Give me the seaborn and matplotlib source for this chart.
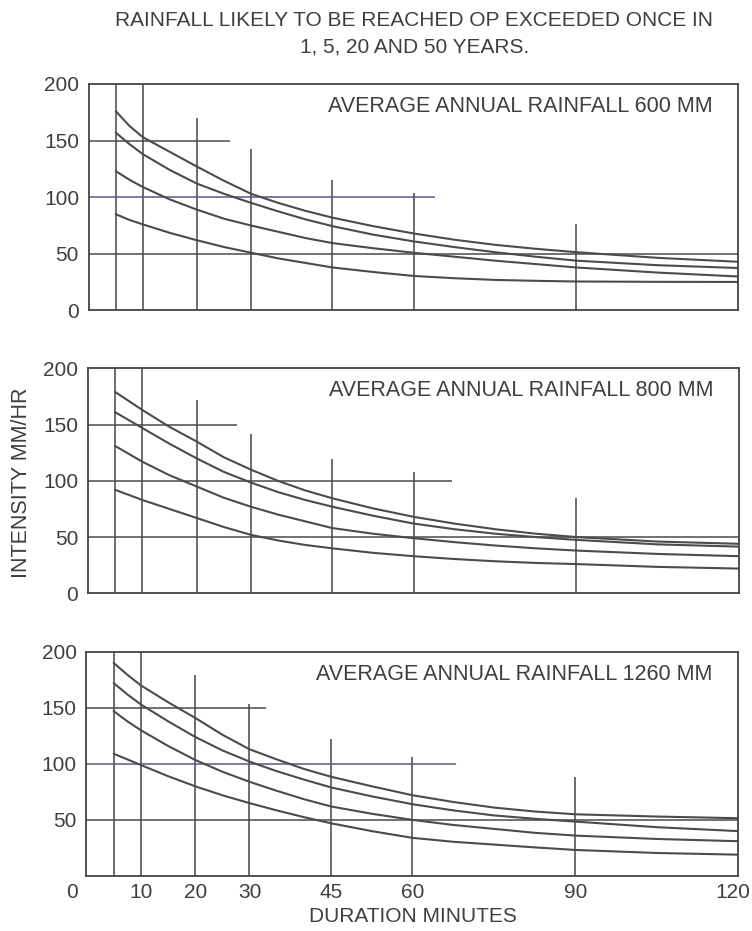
import pandas as pd
import seaborn as sns
import matplotlib.pyplot as plt
from matplotlib.transforms import ScaledTranslation

# durations (minutes) at which the curves were read
duration = [5, 7.5, 10, 15, 20, 25, 30, 35, 40, 45, 52.5, 60, 67.5, 75, 82.5, 90, 105, 120]
periods = ['50 years', '20 years', '5 years', '1 year']

# intensity mm/hr, top curve first
r600_50 = [176, 163, 153, 140, 127, 114.5, 103, 95, 88, 82, 74.5, 68, 62.5, 58, 54.5, 51.5, 46.5, 43]
r600_20 = [157, 147, 138, 124, 112, 103, 95, 87.5, 80.5, 74.5, 67, 61, 56, 51.5, 47.5, 44, 40, 37.5]
r600_5 = [123, 115.5, 109, 98, 89, 81, 75, 69.5, 64, 59.5, 55, 51, 47.5, 44, 41, 38, 33.5, 30]
r600_1 = [85, 80, 76, 68.5, 62, 56, 51, 46, 42, 38, 34, 30.5, 28.5, 27, 26.2, 25.6, 25.3, 25.2]

r800_50 = [179, 171, 163, 148, 135, 121, 110, 100, 91.5, 84.5, 75.5, 68, 62, 57, 53, 50, 46, 44]
r800_20 = [161, 154, 147, 133, 120, 108, 98.5, 90, 83, 77, 69, 62, 57, 53, 50, 47.5, 43.5, 41.5]
r800_5 = [131, 124, 117, 105, 95, 85, 77, 70, 64, 58, 53, 49, 45.5, 42.5, 40, 38, 35, 33]
r800_1 = [92, 87.5, 83, 75, 67, 59, 52, 47, 43, 40, 36, 33, 30.5, 28.5, 27, 26, 23.5, 22]

r1260_50 = [190, 179.5, 170, 155, 141, 126, 113, 104, 95.5, 88.5, 80, 72, 66, 61, 57.5, 55, 53, 51.5]
r1260_20 = [172, 162, 153, 138, 124, 112, 102, 93.5, 86, 79, 71, 64, 58.5, 54, 51, 48.5, 43.5, 40]
r1260_5 = [147, 138, 130, 116, 103.5, 93, 84, 76, 68.5, 62, 55.5, 50, 45.5, 42, 38.5, 36, 33, 31]
r1260_1 = [109, 104, 99, 89, 80, 72, 65, 58.5, 52.5, 47, 40, 34, 30.5, 28, 25.5, 23.2, 20.5, 19]

panel_titles = ['AVERAGE ANNUAL RAINFALL 600 MM',
                'AVERAGE ANNUAL RAINFALL 800 MM',
                'AVERAGE ANNUAL RAINFALL 1260 MM']

# printed grid of the original: vertical rules and how high they reach
vline_x = [5, 10, 20, 30, 45, 60, 90]
vline_top_600 = [200, 200, 170, 143, 115, 104, 76]
vline_top_800 = [200, 200, 172, 142, 119, 108, 85]
vline_top_1260 = [200, 200, 179, 153, 122, 106, 88]

# horizontal rules and where they stop
hline_y = [50, 100, 150]
hline_end_600 = [120, 64, 26]
hline_end_800 = [120, 67, 27.5]
hline_end_1260 = [120, 68, 33]

x_ticks = [0, 10, 20, 30, 45, 60, 90, 120]
y_ticks = [0, 50, 100, 150, 200]

panels = [
    ([r600_50, r600_20, r600_5, r600_1], vline_top_600, hline_end_600),
    ([r800_50, r800_20, r800_5, r800_1], vline_top_800, hline_end_800),
    ([r1260_50, r1260_20, r1260_5, r1260_1], vline_top_1260, hline_end_1260),
]

sns.set_style('white')
plt.rcParams['font.family'] = ['Liberation Sans', 'DejaVu Sans']
ink = '#3f3f3f'

fig = plt.figure(figsize=(7.52, 9.31), dpi=100)
boxes = [[0.118, 0.6665, 0.864, 0.2433],
         [0.117, 0.3627, 0.866, 0.2417],
         [0.115, 0.0591, 0.867, 0.2409]]

for i, (curves, vtops, hends) in enumerate(panels):
    ax = fig.add_axes(boxes[i])
    rows = []
    for name, vals in zip(periods, curves):
        for d, v in zip(duration, vals):
            rows.append({'duration': d, 'intensity': v, 'period': name})
    df = pd.DataFrame(rows)

    ax.vlines(vline_x, 0, vtops, color='#454545', lw=1.1)
    for y, end in zip(hline_y, hends):
        # the 100 rule prints bluish in the top and bottom panels
        c = '#5a5888' if (y == 100 and i != 1) else '#4a4a4a'
        ax.hlines(y, 0, end, color=c, lw=1.1)

    sns.lineplot(data=df, x='duration', y='intensity', hue='period',
                 palette={p: '#4b4b4b' for p in periods}, lw=1.5,
                 legend=False, ax=ax)

    ax.set_xlim(0, 120)
    ax.set_ylim(0, 200)
    for s in ax.spines.values():
        s.set_visible(True)
        s.set_color('#444444')
        s.set_linewidth(1.3)
    ax.set_xlabel('')
    ax.set_ylabel('')
    ax.tick_params(length=0, labelsize=15, colors=ink)
    ax.tick_params(axis='y', pad=7)
    ax.tick_params(axis='x', pad=5)
    if i < 2:
        ax.set_yticks(y_ticks)
        ax.set_xticks([])
    else:
        ax.set_yticks(y_ticks[1:])
        ax.set_xticks(x_ticks)
        ax.set_xticklabels([str(t) for t in x_ticks])
        labels = ax.get_xticklabels()
        labels[0].set_transform(labels[0].get_transform() + ScaledTranslation(-0.14, 0, fig.dpi_scale_trans))
        labels[-1].set_transform(labels[-1].get_transform() + ScaledTranslation(-0.06, 0, fig.dpi_scale_trans))
        ax.set_xlabel('DURATION MINUTES', fontsize=15, color=ink, labelpad=4)

    ax.text(0.96, 0.9, panel_titles[i], transform=ax.transAxes, ha='right', va='center',
            fontsize=15.5, color=ink)

fig.text(0.551, 0.988, 'RAINFALL LIKELY TO BE REACHED OP EXCEEDED ONCE IN\n1, 5, 20 AND 50 YEARS.',
         ha='center', va='top', fontsize=15, color=ink, linespacing=1.46)
fig.text(0.029, 0.482, 'INTENSITY MM/HR', rotation=90, ha='center', va='center',
         fontsize=15.5, color=ink)

fig.savefig('out.png', dpi=100)
